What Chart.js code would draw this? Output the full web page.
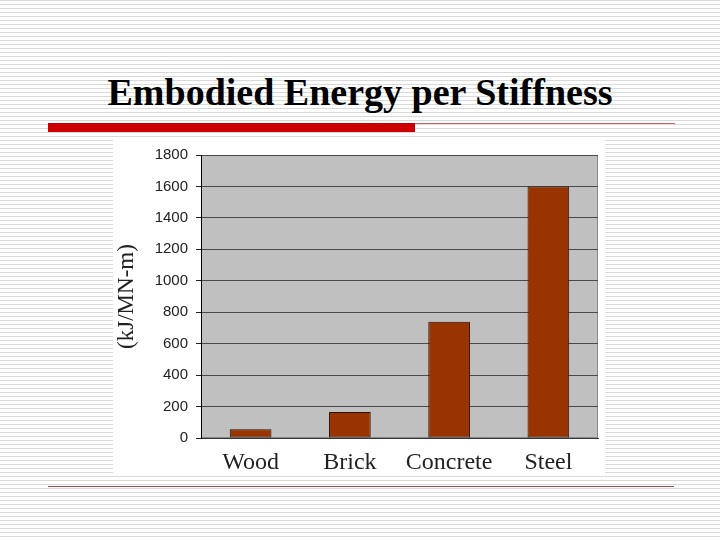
<!DOCTYPE html>
<html>
<head>
<meta charset="utf-8">
<script src="https://cdn.jsdelivr.net/npm/chart.js@4"></script>
<style>
    html, body { margin: 0; padding: 0; }
    body {
        width: 720px; height: 540px; position: relative; overflow: hidden;
        background: repeating-linear-gradient(to bottom, #d9d9d9 0px, #d9d9d9 1px, #ffffff 1px, #ffffff 4px);
    }
    .title {
        position: absolute; left: 0; top: 70px; width: 720px; text-align: center;
        font: bold 38px "Liberation Serif", "Times New Roman", serif; color: #000;
    }
    .red-bar  { position: absolute; left: 48px; top: 123px; width: 367px; height: 9px; background: #cc0000; }
    .red-line { position: absolute; left: 415px; top: 123px; width: 260px; height: 1px; background: #d86060; }
    .foot-line { position: absolute; left: 48px; top: 486px; width: 626px; height: 1px; background: #a04848; }
    .chart-box { position: absolute; left: 113px; top: 138px; width: 492px; height: 338px; background: #fff; }
    .chart-box canvas { display: block; }
</style>
</head>
<body>
<div class="title">Embodied Energy per Stiffness</div>
<div class="red-bar"></div>
<div class="red-line"></div>
<div class="foot-line"></div>
<div class="chart-box"><canvas id="energyChart" width="492" height="338"></canvas></div>

<script>
// ---- Data ----
const materials = ['Wood', 'Brick', 'Concrete', 'Steel'];
const energyPerStiffness = [55, 165, 740, 1600];
const yTicks = [0, 200, 400, 600, 800, 1000, 1200, 1400, 1600, 1800];

// ---- Gray plot background + outline ----
const plotBackground = {
    id: 'plotBackground',
    beforeDraw(chart) {
        const { ctx, chartArea: a } = chart;
        ctx.save();
        ctx.fillStyle = '#c0c0c0';
        ctx.fillRect(a.left, a.top, a.right - a.left, a.bottom - a.top);
        ctx.strokeStyle = '#8a8a8a';
        ctx.lineWidth = 1;
        ctx.strokeRect(a.left + 0.5, a.top + 0.5, a.right - a.left - 1, a.bottom - a.top - 1);
        ctx.restore();
    }
};

function initEnergyChart() {
    const ctx = document.getElementById('energyChart');
    new Chart(ctx, {
        type: 'bar',
        data: {
            labels: materials,
            datasets: [{
                data: energyPerStiffness,
                backgroundColor: '#993300',
                borderColor: '#2a1000',
                borderWidth: 1,
                borderSkipped: false,
                barPercentage: 0.42,
                categoryPercentage: 1.0,
            }]
        },
        options: {
            responsive: false,
            animation: false,
            layout: { padding: { top: 15, right: 7, left: 0, bottom: 0 } },
            plugins: { legend: { display: false }, tooltip: { enabled: false } },
            scales: {
                x: {
                    grid: { display: false, drawTicks: false },
                    border: { color: '#333', width: 1 },
                    ticks: {
                        padding: 10,
                        color: '#222',
                        font: { family: '"Liberation Serif", "Times New Roman", serif', size: 24 }
                    },
                    afterFit(scale) { scale.height = 38; }
                },
                y: {
                    min: 0, max: 1800,
                    afterBuildTicks(scale) { scale.ticks = yTicks.map(v => ({ value: v })); },
                    grid: { color: '#4a4a4a', tickLength: 5, tickColor: '#222' },
                    border: { color: '#000', width: 1 },
                    ticks: {
                        padding: 8,
                        color: '#222',
                        font: { family: '"Liberation Sans", Arial, sans-serif', size: 15 },
                        callback: v => String(v)
                    },
                    title: {
                        display: true,
                        text: '(kJ/MN-m)',
                        color: '#222',
                        padding: 0,
                        font: { family: '"Liberation Serif", "Times New Roman", serif', size: 23 }
                    },
                    afterFit(scale) { scale.width = 88; }
                }
            }
        },
        plugins: [plotBackground]
    });
}

document.addEventListener('DOMContentLoaded', initEnergyChart);
</script>
</body>
</html>
